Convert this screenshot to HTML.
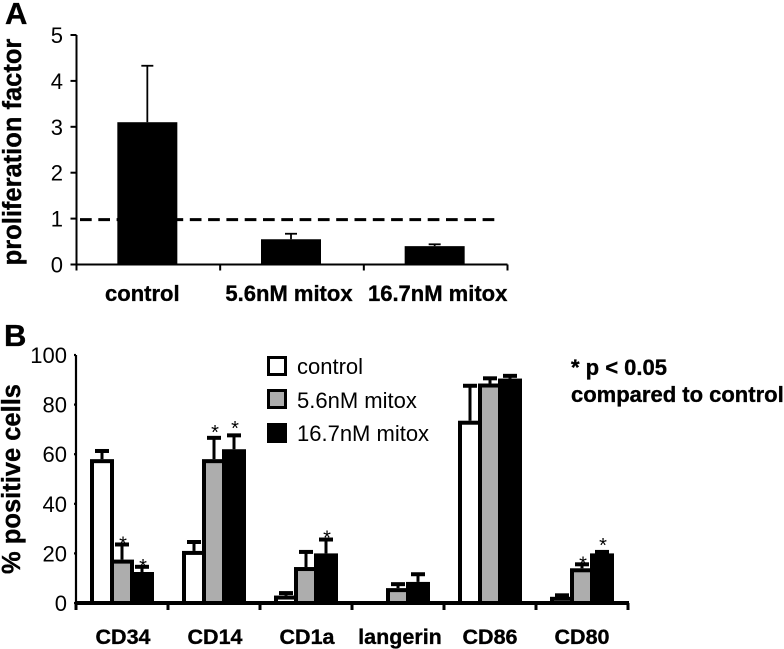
<!DOCTYPE html>
<html>
<head>
<meta charset="utf-8">
<title>Proliferation and surface marker chart</title>
<style>
html,body{margin:0;padding:0;background:#fff;}
svg{display:block;filter:blur(0.35px);}
text{font-family:"Liberation Sans",sans-serif;fill:#000;}
.b{font-weight:bold;stroke:#000;stroke-width:0.35px;}
</style>
</head>
<body>
<svg id="chart" width="784" height="649" viewBox="0 0 784 649" xmlns="http://www.w3.org/2000/svg">
  <text class="b" x="5" y="24" font-size="31">A</text>
  <text class="b" x="4" y="346" font-size="31">B</text>
  <text class="b" font-size="25.5" text-anchor="middle" transform="translate(21 152) rotate(-90)">proliferation factor</text>
  <text class="b" font-size="25.5" text-anchor="middle" transform="translate(20 479) rotate(-90)">% positive cells</text>
  <g>
    <rect x="268.5" y="357.5" width="17" height="17" fill="#fff" stroke="#000" stroke-width="3"/>
    <text x="297" y="374" font-size="22">control</text>
    <rect x="268.5" y="390.5" width="17" height="17" fill="#adadad" stroke="#000" stroke-width="3"/>
    <text x="297" y="408" font-size="22">5.6nM mitox</text>
    <rect x="268.5" y="424.5" width="17" height="17" fill="#000" stroke="#000" stroke-width="3"/>
    <text x="297" y="441" font-size="22">16.7nM mitox</text>
  </g>
  <text class="b" x="571" y="375" font-size="22">* p &lt; 0.05</text>
  <text class="b" x="571" y="402" font-size="22">compared to control</text>
</svg>
<script>
// Panel A data
const aCategories = ['control', '5.6nM mitox', '16.7nM mitox'];
const aValues = [3.1, 0.55, 0.4];
const aErrorTops = [4.33, 0.67, 0.44];
const aTicks = [0, 1, 2, 3, 4, 5];
const aReference = 1;

// Panel B data
const bCategories = ['CD34', 'CD14', 'CD1a', 'langerin', 'CD86', 'CD80'];
const bSeries = ['control', '5.6nM mitox', '16.7nM mitox'];
const bControl = [58, 21, 3, 0, 73.5, 2.5];
const bMitox56 = [17.5, 58, 14.5, 6, 88.5, 14];
const bMitox167 = [12.5, 62, 20, 8.5, 90.5, 20];
const bControlErr = [61.7, 25, 4.4, 0, 88, 3.5];
const bMitox56Err = [24, 67, 21, 8, 91, 16];
const bMitox167Err = [15, 68, 26, 12, 92, 21];
// Height (in % units) at which each significance star is printed; null = no star
const bStar56 = [26, 71, null, null, null, 18];
const bStar167 = [17, 72.5, 28.5, null, null, 25.5];
const bTicks = [0, 20, 40, 60, 80, 100];

const svg = document.getElementById('chart');
const NS = 'http://www.w3.org/2000/svg';
function mk(tag, attrs, parent) {
  const el = document.createElementNS(NS, tag);
  for (const k in attrs) el.setAttribute(k, attrs[k]);
  (parent || svg).appendChild(el);
  return el;
}
function line(x1, y1, x2, y2, w, parent) {
  return mk('line', {x1: x1, y1: y1, x2: x2, y2: y2, stroke: '#000', 'stroke-width': w}, parent);
}

/* ---------- Panel A ---------- */
const aLeft = 76.5, aRight = 507.5, aBase = 264.5, aTop = 35;
const aMax = aTicks[aTicks.length - 1];
const aY = v => aBase - v / aMax * (aBase - aTop);
const aBand = (aRight - aLeft) / aCategories.length;
const aX = i => aLeft + aBand * (i + 0.5) - 1;
const aBarW = 60;

const aGroup = mk('g', {});



const refLine = line(80, aY(aReference) + 1, 498, aY(aReference) + 1, 3, aGroup);
refLine.setAttribute('stroke-dasharray', '11.7 6.6');



aCategories.forEach((c, i) => {
  const bar = mk('rect', {x: aX(i) - aBarW / 2, y: aY(aValues[i]), width: aBarW, height: aBase - aY(aValues[i]), fill: '#000'}, aGroup);
  
  
  const err = line(aX(i), aY(aValues[i]), aX(i), aY(aErrorTops[i]), 1.8, aGroup);
  
  
  const cap = line(aX(i) - 6, aY(aErrorTops[i]), aX(i) + 6, aY(aErrorTops[i]), 1.8, aGroup);
  
  
  const lab = mk('text', {x: aLeft + aBand * (i + 0.5) + [-6, -3, 2][i], y: 301, 'font-size': 22, 'text-anchor': 'middle', class: 'b'}, aGroup);
  lab.textContent = c;
  
  
});

const aYAxis = line(aLeft, aTop, aLeft, aBase + 1, 2, aGroup);


const aXAxis = line(aLeft - 6, aBase, aRight, aBase, 2, aGroup);



aTicks.forEach(t => {
  const tick = line(aLeft - 6, aY(t), aLeft, aY(t), 2, aGroup);
  
  
  const lab = mk('text', {x: 63, y: aY(t) + 8, 'font-size': 22, 'text-anchor': 'end'}, aGroup);
  lab.textContent = t;
  
  
});
for (let i = 0; i <= aCategories.length; i++) {
  const tx = aLeft + aBand * i;
  const tick = line(tx, aBase, tx, aBase + 6, 2, aGroup);
  
  
}

/* ---------- Panel B ---------- */
const bLeft = 76, bRight = 628, bBase = 603, bTop = 355;
const bMax = bTicks[bTicks.length - 1];
const bY = v => bBase - v / bMax * (bBase - bTop);
const bBand = (bRight - bLeft) / bCategories.length;
const bBarW = 20;
const bFills = ['#fff', '#adadad', '#000'];
const bVals = [bControl, bMitox56, bMitox167];
const bErrs = [bControlErr, bMitox56Err, bMitox167Err];
const bStars = [null, bStar56, bStar167];
const bSw = 4;

const bGroup = mk('g', {});



bCategories.forEach((c, i) => {
  const start = bLeft + bBand * i + 16;
  bSeries.forEach((s, j) => {
    const x = start + j * bBarW;
    const cx = x + bBarW / 2;
    const v = bVals[j][i], e = bErrs[j][i];
    if (e > v) {
      const err = line(cx, bY(v), cx, bY(e), 3, bGroup);
      
      
      const cap = line(cx - 7, bY(e) + 1, cx + 7, bY(e) + 1, 4, bGroup);
      
      
    }
    if (v > 0) {
      const bar = mk('rect', {x: x, y: bY(v) + bSw / 2, width: bBarW, height: Math.max(bBase - bY(v) - bSw / 2, 0), fill: bFills[j], stroke: '#000', 'stroke-width': bSw}, bGroup);
      
      
    }
    if (bStars[j] && bStars[j][i] !== null) {
      const star = mk('text', {x: cx + 1, y: bY(bStars[j][i]) + 12, 'font-size': 20, 'text-anchor': 'middle'}, bGroup);
      star.textContent = '*';
      
      
    }
  });
  const lab = mk('text', {x: bLeft + bBand * (i + 0.5) + [1, 1, 1, 2, 0, 0][i], y: 644, 'font-size': 21.5, 'text-anchor': 'middle', class: 'b'}, bGroup);
  lab.textContent = c;
  
  
});

const bYAxis = line(bLeft, bTop, bLeft, bBase + 2, 2.2, bGroup);


const bXAxis = line(bLeft, bBase, bRight + 1, bBase, 4, bGroup);



bTicks.forEach(t => {
  const tick = line(bLeft - 2, bY(t), bLeft, bY(t), 2.2, bGroup);
  
  
  const lab = mk('text', {x: 67, y: bY(t) + 8, 'font-size': 22, 'text-anchor': 'end'}, bGroup);
  lab.textContent = t;
  
  
});
for (let i = 0; i <= bCategories.length; i++) {
  const tx = bLeft + bBand * i;
  const tick = line(tx, bBase, tx, bBase + 7, 3, bGroup);
  
  
}
</script>
</body>
</html>
